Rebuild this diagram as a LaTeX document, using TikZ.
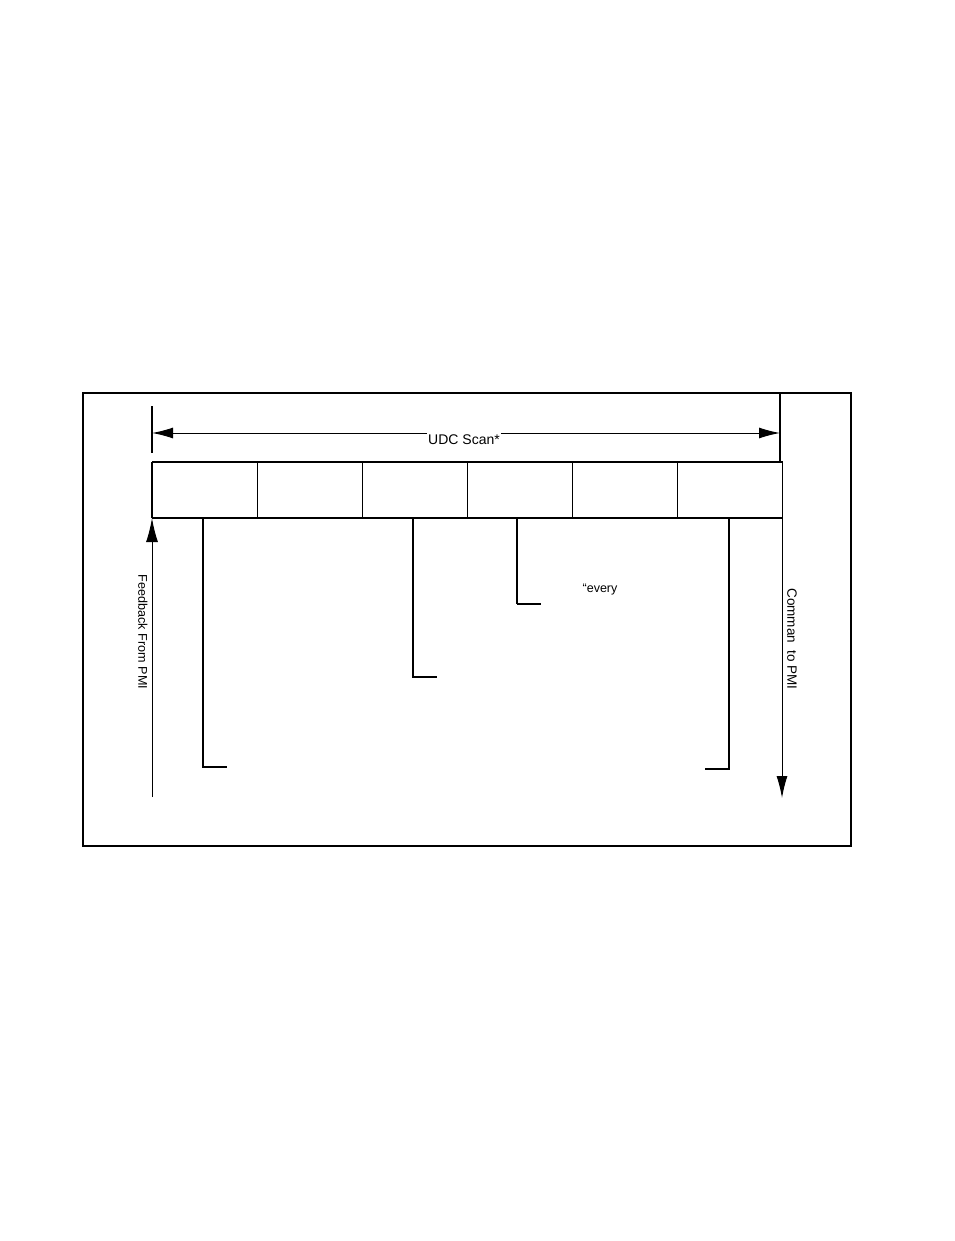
\documentclass[tikz,border=0pt]{standalone}
\usepackage{fontspec}
\setmainfont{Liberation Sans}
\usetikzlibrary{arrows.meta}
\begin{document}
\begin{tikzpicture}[x=1pt,y=-1pt,
  cell/.style={draw,line width=1.1pt,minimum width=105pt,minimum height=55pt,inner sep=0pt,anchor=north west},
  lbl/.style={font=\fontsize{13}{15}\selectfont,inner sep=1pt},
  lead/.style={line width=1.5pt},
  bigarrow/.style={-{Latex[length=21pt,width=11pt]},line width=1pt}]
\useasboundingbox (0,0) rectangle (954,1241);
% outer frame
\draw[line width=1.4pt] (549,393) -- (83,393) -- (83,846) -- (390,846);
\draw[line width=2.6pt] (549,393) -- (851,393) -- (851,846) -- (390,846);
\draw[line width=1.8pt] (780,393) -- (780,462);
% scan span
\draw[line width=1.8pt] (152,406) -- (152,453);
\node[lbl,font=\fontsize{14}{16}\selectfont] (scan) at (464,440) {UDC Scan*};
\coordinate (scanL) at (152,433);
\coordinate (scanR) at (780,433);
\draw[bigarrow] (scan.west |- scanL) -- (scanL);
\draw[bigarrow] (scan.east |- scanR) -- (scanR);
% cells
\node[cell] (c1) at (152,462) {};
\node[cell] (c2) at (257,462) {};
\node[cell] (c3) at (362,462) {};
\node[cell] (c4) at (467,462) {};
\node[cell] (c5) at (572,462) {};
\node[cell] (c6) at (677,462) {};
\draw[line width=1.8pt] (c1.north west) -- (c6.north east);
\draw[line width=1.8pt] (c1.south west) -- (c6.south east);
\draw[line width=1.8pt] (c1.north west) -- (c1.south west);
% leads
\coordinate (l1a) at (203,517); \coordinate (l1b) at (203,767); \coordinate (l1c) at (227,767);
\coordinate (l2a) at (413,517); \coordinate (l2b) at (413,677); \coordinate (l2c) at (437,677);
\coordinate (l3a) at (517,517); \coordinate (l3b) at (517,604); \coordinate (l3c) at (541,604);
\coordinate (l4a) at (729,517); \coordinate (l4b) at (729,769); \coordinate (l4c) at (705,769);
\draw[lead] (l1a) -- (l1b) -- (l1c);
\draw[lead] (l2a) -- (l2b) -- (l2c);
\draw[lead] (l3a) -- (l3b);
\draw[line width=2.8pt] (l3b) -- (l3c);
\draw[lead] (l4a) -- (l4b) -- (l4c);
\foreach \p in {l1a,l2a,l3a,l4a} \draw[line width=2.6pt] (\p) -- ++(0,20);
\node[lbl,font=\fontsize{12.5}{15}\selectfont] (every) at (600,589) {“every};
% feedback and command
\coordinate (fbS) at (152,797);
\coordinate (fbE) at (c1.south west);
\draw[-{Latex[length=24pt,width=12pt]},line width=1pt] (fbS) -- (fbE);
\node[lbl,rotate=-90,font=\fontsize{12.6}{15}\selectfont] (fb) at (143,632) {Feedback From PMI};
\coordinate (cmS) at (782,517);
\coordinate (cmE) at (782,798);
\draw[-{Latex[length=22pt,width=11pt]},line width=1pt] (cmS) -- (cmE);
\node[lbl,rotate=-90,font=\fontsize{13.5}{15}\selectfont] (cm) at (792,639) {Comman\ \ to PMI};
\end{tikzpicture}
\end{document}
